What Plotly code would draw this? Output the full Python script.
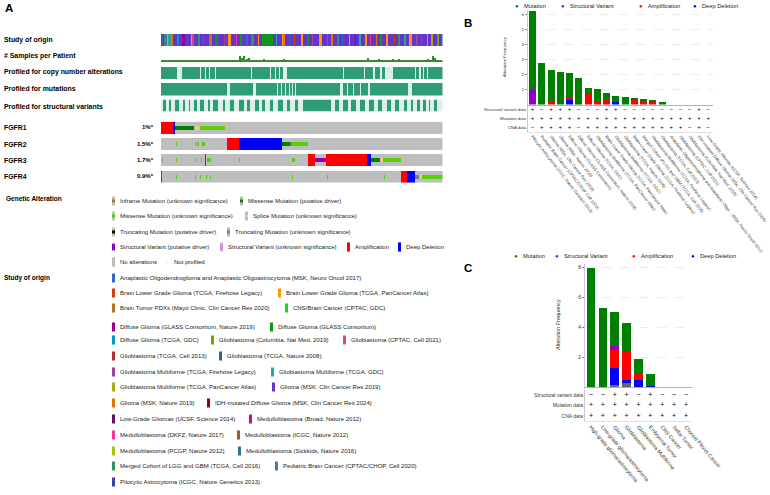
import plotly.graph_objects as go

W, H = 770, 495
FONT = "Arial, Liberation Sans, Helvetica, sans-serif"

def fx(p):
    return p / W

def fy(p):
    return 1 - p / H

def ydom(top, bottom):
    return [fy(bottom), fy(top)]

def xdom(left, right):
    return [fx(left), fx(right)]

def expand(runs):
    out = []
    for v, n in runs:
        out += [v] * n
    return out

def discrete(colors):
    n = len(colors)
    cs = []
    for k, c in enumerate(colors):
        cs.append([k / n, c])
        cs.append([(k + 1) / n, c])
    return cs

# ======================= DATA =======================
study_names = [
    "Anaplastic Oligodendroglioma and Anaplastic Oligoastrocytoma (MSK, Neuro Oncol 2017)",
    "Brain Lower Grade Glioma (TCGA, Firehose Legacy)",
    "Brain Lower Grade Glioma (TCGA, PanCancer Atlas)",
    "Brain Tumor PDXs (Mayo Clinic, Clin Cancer Res 2020)",
    "CNS/Brain Cancer (CPTAC, GDC)",
    "Diffuse Glioma (GLASS Consortium, Nature 2019)",
    "Diffuse Glioma (GLASS Consortium)",
    "Diffuse Glioma (TCGA, GDC)",
    "Glioblastoma (Columbia, Nat Med. 2019)",
    "Glioblastoma (CPTAC, Cell 2021)",
    "Glioblastoma (TCGA, Cell 2013)",
    "Glioblastoma (TCGA, Nature 2008)",
    "Glioblastoma Multiforme (TCGA, Firehose Legacy)",
    "Glioblastoma Multiforme (TCGA, GDC)",
    "Glioblastoma Multiforme (TCGA, PanCancer Atlas)",
    "Glioma (MSK, Clin Cancer Res 2019)",
    "Glioma (MSK, Nature 2019)",
    "IDH-mutated Diffuse Glioma (MSK, Clin Cancer Res 2024)",
    "Low-Grade Gliomas (UCSF, Science 2014)",
    "Medulloblastoma (Broad, Nature 2012)",
    "Medulloblastoma (DKFZ, Nature 2017)",
    "Medulloblastoma (ICGC, Nature 2012)",
    "Medulloblastoma (PCGP, Nature 2012)",
    "Medulloblastoma (Sickkids, Nature 2016)",
    "Merged Cohort of LGG and GBM (TCGA, Cell 2016)",
    "Pediatric Brain Cancer (CPTAC/CHOP, Cell 2020)",
    "Pilocytic Astrocytoma (ICGC, Nature Genetics 2013)",
]
study_colors = [
    "#3366cc", "#dc3912", "#ff9900", "#b77322", "#16d620", "#990099", "#109618",
    "#0099c6", "#66aa00", "#dd4477", "#b82e2e", "#316395", "#994499", "#22aa99",
    "#aaaa11", "#6633cc", "#e67300", "#8b0707", "#651067", "#b91383", "#f4359e",
    "#9c5935", "#a9c413", "#2a778d", "#329262", "#5574a6", "#3b3eac",
]
# study of origin per sample column (study index, run length)
study_runs = [
    (11, 2), (25, 2), (2, 1), (13, 2), (16, 1), (15, 3), (7, 1), (15, 2), (5, 2), (15, 4),
    (2, 1), (9, 1), (15, 3), (24, 1), (15, 2), (1, 1), (15, 3), (13, 1), (3, 1), (15, 2),
    (6, 2), (15, 4), (12, 1), (15, 2), (2, 2), (15, 3), (20, 1), (15, 2), (6, 1), (15, 3),
    (0, 1), (15, 2), (24, 2), (15, 3), (2, 1), (15, 2), (6, 7), (15, 2), (13, 1), (15, 3),
    (2, 1), (16, 1), (15, 3), (11, 1), (15, 2), (1, 1), (15, 4), (2, 1), (15, 3), (6, 1),
    (15, 2), (12, 1), (15, 4), (2, 2), (15, 3), (7, 1), (15, 2), (16, 1), (15, 3), (24, 1),
    (15, 2), (0, 1), (15, 4), (2, 1), (15, 3), (5, 1), (15, 2), (13, 1), (15, 3), (2, 1),
    (15, 2), (9, 1), (15, 3), (16, 1), (15, 2), (6, 1), (15, 3), (2, 1), (15, 4), (1, 1),
    (15, 2), (24, 1), (15, 3), (13, 1), (15, 2), (2, 2), (15, 3), (12, 1), (15, 2), (0, 1),
    (15, 3), (2, 1), (15, 2), (14, 1), (15, 3), (8, 1), (15, 2), (11, 1),
]
# samples per patient: patients with more than one sample (column index, count)
multi_sample_cols = [37, 46, 51, 54, 59, 78, 80, 82, 85, 87, 102, 122, 124, 132, 136, 139,
                     157, 169, 206, 211, 217, 221, 225, 231, 237, 259, 263, 266, 271, 273]
multi_sample_vals = [2, 2, 2, 2, 2, 5, 4, 5, 3, 4, 3, 3, 2, 2, 2, 2,
                     2, 2, 4, 2, 3, 2, 2, 3, 3, 2, 2, 3, 5, 4]
n_samples_cols = 281
# profiled tracks (1 = profiled, 0 = not profiled)
cna_profiled_runs = [
    (1, 16), (0, 5), (1, 18), (0, 1), (1, 4), (0, 1), (1, 3), (0, 1), (1, 5), (0, 1),
    (1, 35), (0, 1), (1, 18), (0, 1), (1, 4), (0, 1), (1, 3), (0, 1), (1, 3), (0, 4),
    (1, 55), (0, 1), (1, 20), (0, 1), (1, 8), (0, 2), (1, 5), (0, 2), (1, 3), (0, 8),
    (1, 22), (0, 1), (1, 3), (0, 2), (1, 2), (0, 1), (1, 3), (0, 1), (1, 15),
]
mut_profiled_runs = [
    (1, 66), (0, 3), (1, 23), (0, 3), (1, 21), (0, 1), (1, 3), (0, 1), (1, 3), (0, 1),
    (1, 3), (0, 1), (1, 2), (0, 1), (1, 2), (0, 1), (1, 43), (0, 3), (1, 4), (0, 1),
    (1, 5), (0, 1), (1, 6), (0, 1), (1, 7), (0, 2), (1, 38), (0, 4), (1, 31),
]
sv_profiled_runs = [
    (0, 2), (1, 3), (0, 3), (1, 2), (0, 4), (1, 4), (0, 4), (1, 2), (0, 4), (1, 1),
    (0, 4), (1, 3), (0, 3), (1, 4), (0, 4), (1, 2), (0, 3), (1, 5), (0, 5), (1, 2),
    (0, 5), (1, 4), (0, 5), (1, 5), (0, 3), (1, 3), (0, 5), (1, 4), (0, 3), (1, 3),
    (0, 5), (1, 3), (0, 5), (1, 5), (0, 4), (1, 3), (0, 5), (1, 3), (0, 4), (1, 28),
    (0, 4), (1, 4), (0, 4), (1, 5), (0, 3), (1, 5), (0, 4), (1, 5), (0, 4), (1, 5),
    (0, 4), (1, 4), (0, 5), (1, 4), (0, 4), (1, 4), (0, 5), (1, 3), (0, 4), (1, 2),
    (0, 4), (1, 3), (0, 3), (1, 3), (0, 3), (1, 1), (0, 4), (1, 3), (0, 6),
]

genes = ["FGFR1", "FGFR2", "FGFR3", "FGFR4"]
gene_pct = ["1%*", "1.5%*", "1.7%*", "0.9%*"]
# alteration codes
alt_names = ["No alterations", "Amplification", "Deep Deletion",
             "Missense Mutation (putative driver)", "Missense Mutation (unknown significance)",
             "Splice Mutation (unknown significance)", "Truncating Mutation (unknown significance)",
             "Structural Variant (putative driver)", "Structural Variant (unknown significance)",
             "Inframe Mutation (unknown significance)", "Truncating Mutation (putative driver)"]
# copy-number layer per gene (code, run length); glyph layer (-1 = none)
gene_base_runs = {
    "FGFR1": [(1, 12), (2, 2), (0, 267)],
    "FGFR2": [(0, 66), (1, 12), (2, 43), (0, 160)],
    "FGFR3": [(0, 44), (1, 1), (0, 101), (1, 7), (0, 11), (1, 41), (2, 4), (0, 72)],
    "FGFR4": [(1, 1), (0, 238), (1, 6), (2, 8), (0, 28)],
}
gene_glyph_runs = {
    "FGFR1": [(-1, 14), (3, 19), (-1, 1), (5, 5), (4, 25), (-1, 217)],
    "FGFR2": [(-1, 15), (4, 1), (-1, 18), (4, 1), (-1, 1), (4, 2), (-1, 3), (4, 3), (-1, 21),
              (8, 1), (-1, 55), (3, 8), (6, 2), (4, 15), (-1, 135)],
    "FGFR3": [(8, 2), (-1, 13), (4, 1), (-1, 18), (4, 1), (-1, 5), (4, 1), (-1, 5), (4, 4),
              (-1, 28), (4, 1), (-1, 52), (4, 3), (-1, 19), (7, 11), (-1, 45), (3, 9), (5, 3),
              (4, 18), (-1, 42)],
    "FGFR4": [(-1, 15), (4, 1), (-1, 18), (4, 1), (-1, 4), (4, 1), (-1, 5), (4, 1), (-1, 3),
              (4, 1), (-1, 81), (4, 1), (-1, 33), (4, 1), (-1, 56), (4, 1), (-1, 30), (6, 4),
              (-1, 1), (5, 2), (4, 21)],
}

# ---- Panel B: alteration frequency by study ----
b_studies = [
    "Pilocytic Astrocytoma (ICGC, Nature Genetics 2013)",
    "Pediatric Brain Cancer (CPTAC/CHOP, Cell 2020)",
    "Glioma (MSK, Clin Cancer Res 2019)",
    "Glioma (MSK, Nature 2019)",
    "Diffuse Glioma (GLASS Consortium)",
    "Diffuse Glioma (GLASS Consortium, Nature 2019)",
    "Diffuse Glioma (TCGA, GDC)",
    "Glioblastoma Multiforme (TCGA, PanCancer Atlas)",
    "Brain Lower Grade Glioma (TCGA, PanCancer Atlas)",
    "Glioblastoma Multiforme (TCGA, GDC)",
    "Glioblastoma (TCGA, Nature 2008)",
    "Brain Lower Grade Glioma (TCGA, Firehose Legacy)",
    "Merged Cohort of LGG and GBM (TCGA, Cell 2016)",
    "Glioblastoma Multiforme (TCGA, Firehose Legacy)",
    "Glioblastoma (TCGA, Cell 2013)",
    "Anaplastic Oligodendroglioma and Anaplastic Oligo... (MSK, Neuro Oncol 2017)",
    "Glioblastoma (CPTAC, Cell 2021)",
    "Glioblastoma (Columbia, Nat Med. 2019)",
    "IDH-mutated Diffuse Glioma (MSK, Clin Cancer Res 2024)",
    "Low-Grade Gliomas (UCSF, Science 2014)",
]
b_mutation = [5.22, 2.76, 2.07, 2.20, 1.58, 1.80, 0.37, 0.84, 0.42, 0.38,
              0.49, 0.02, 0.09, 0.13, 0.16, 0, 0, 0, 0, 0]
b_sv = [1.00, 0, 0, 0, 0, 0, 0, 0, 0, 0, 0, 0, 0, 0, 0, 0, 0, 0, 0, 0]
b_amp = [0, 0, 0.22, 0, 0.16, 0, 0.76, 0.18, 0.36, 0,
         0, 0.38, 0.27, 0.20, 0, 0, 0, 0, 0, 0]
b_del = [0, 0, 0, 0, 0.33, 0, 0, 0, 0, 0.18, 0, 0, 0, 0, 0, 0, 0, 0, 0, 0]
b_sv_data = ["+", "−", "+", "+", "+", "−", "−", "−", "+", "+",
             "−", "−", "−", "−", "−", "−", "−", "−", "+", "−"]
b_mut_data = ["+"] * 20
b_cna_data = ["−", "+", "+", "+", "+", "−", "+", "+", "+", "+",
              "+", "+", "+", "+", "+", "+", "+", "−", "+", "−"]

# ---- Panel C: alteration frequency by cancer type ----
c_types = ["High-grade glioma/astrocytoma", "Low-grade glioma/astrocytoma", "Glioma",
           "Glioblastoma", "Glioblastoma Multiforme", "Embryonal Tumor", "CNS Cancer",
           "Sellar Tumor", "Choroid Plexus Cancer"]
c_mutation = [7.95, 5.27, 2.24, 1.89, 0.96, 0.80, 0, 0, 0]
c_sv = [0, 0, 0.27, 0, 0, 0, 0, 0, 0]
c_amp = [0, 0, 1.24, 1.91, 0.49, 0, 0, 0, 0]
c_del = [0, 0, 1.11, 0.16, 0.44, 0.09, 0, 0, 0]
c_multiple = [0, 0, 0.13, 0.29, 0, 0, 0, 0, 0]
c_sv_data = ["−", "−", "+", "+", "−", "+", "−", "−", "−"]
c_mut_data = ["+"] * 9
c_cna_data = ["+"] * 9

table_rows = ["Structural variant data", "Mutation data", "CNA data"]

# ======================= STYLE =======================
alt_colors = ["#bebebe", "#ff0000", "#0000ff", "#008000", "#53d400", "#edc39b",
              "#708090", "#8b00c9", "#ce92e8", "#a68028", "#000000"]
prof_colors = ["#dcefe7", "#2f9c78"]
COL_MUT, COL_SV, COL_AMP, COL_DEL, COL_MULTI = "#008000", "#8e00c9", "#ff0000", "#0000ff", "#666666"

fig = go.Figure()

# ---------- Panel A oncoprint ----------
study_z = expand(study_runs)
fig.add_trace(go.Heatmap(z=[study_z], colorscale=discrete(study_colors), zmin=-0.5,
                         zmax=len(study_colors) - 0.5, showscale=False, hoverinfo="skip",
                         xaxis="x", yaxis="y"))

samp = [1] * n_samples_cols
for c, v in zip(multi_sample_cols, multi_sample_vals):
    samp[c] = v
fig.add_trace(go.Bar(x=list(range(n_samples_cols)), y=samp, width=0.9, marker_color="#2f8f2f",
                     marker_line_width=0, showlegend=False, hoverinfo="skip",
                     xaxis="x2", yaxis="y2"))

for runs, ax in [(cna_profiled_runs, "3"), (mut_profiled_runs, "4"), (sv_profiled_runs, "5")]:
    fig.add_trace(go.Heatmap(z=[expand(runs)], colorscale=discrete(prof_colors), zmin=-0.5,
                             zmax=1.5, showscale=False, hoverinfo="skip",
                             xaxis="x" + ax, yaxis="y" + ax))

gene_rows = []
for i, g in enumerate(genes):
    base = expand(gene_base_runs[g])
    glyph = expand(gene_glyph_runs[g])
    mid = [gl if gl >= 0 else b for b, gl in zip(base, glyph)]
    gene_rows += [base, mid, base]
    if i < len(genes) - 1:
        gene_rows.append([None] * len(base))
fig.add_trace(go.Heatmap(z=gene_rows, colorscale=discrete(alt_colors), zmin=-0.5,
                         zmax=len(alt_colors) - 0.5, showscale=False, hoverinfo="skip",
                         hoverongaps=False, xaxis="x6", yaxis="y6"))

# ---------- Panel B ----------
for vals, col in [(b_del, COL_DEL), (b_amp, COL_AMP), (b_sv, COL_SV), (b_mutation, COL_MUT)]:
    fig.add_trace(go.Bar(x=b_studies, y=vals, width=0.78, marker_color=col,
                         marker_line_width=0, showlegend=False, xaxis="x7", yaxis="y7"))
for row, syms in zip(table_rows, [b_sv_data, b_mut_data, b_cna_data]):
    fig.add_trace(go.Scatter(x=b_studies, y=[row] * len(b_studies), mode="text", text=syms,
                             textfont=dict(size=6, color="#000", family=FONT), showlegend=False,
                             hoverinfo="skip", xaxis="x8", yaxis="y8"))

# ---------- Panel C ----------
for vals, col in [(c_multiple, COL_MULTI), (c_del, COL_DEL), (c_amp, COL_AMP), (c_sv, COL_SV),
                  (c_mutation, COL_MUT)]:
    fig.add_trace(go.Bar(x=c_types, y=vals, width=0.72, marker_color=col,
                         marker_line_width=0, showlegend=False, xaxis="x9", yaxis="y9"))
for row, syms in zip(table_rows, [c_sv_data, c_mut_data, c_cna_data]):
    fig.add_trace(go.Scatter(x=c_types, y=[row] * len(c_types), mode="text", text=syms,
                             textfont=dict(size=7, color="#000", family=FONT), showlegend=False,
                             hoverinfo="skip", xaxis="x10", yaxis="y10"))

# ======================= LAYOUT =======================
hidden = dict(visible=False, showgrid=False, zeroline=False, fixedrange=True, automargin=False)
onco_x = xdom(161, 442.5)
layout = dict(
    width=W, height=H, margin=dict(l=0, r=0, t=0, b=0, autoexpand=False), paper_bgcolor="white",
    plot_bgcolor="white", showlegend=False, barmode="stack",
    font=dict(family=FONT, color="#000"),
)
tracks = [("", 34, 46, len(study_z)), ("2", 52, 62, n_samples_cols), ("3", 67, 79, None),
          ("4", 83, 95.5, None), ("5", 99.5, 111.5, None), ("6", 121.7, 182.7, None)]
for ax, top, bot, n in tracks:
    layout["xaxis" + ax] = dict(hidden, domain=onco_x, anchor="y" + ax)
    layout["yaxis" + ax] = dict(hidden, domain=ydom(top, bot), anchor="x" + ax)
layout["xaxis"]["range"] = [-0.5, len(study_z) - 0.5]
layout["xaxis2"]["range"] = [-0.5, n_samples_cols - 0.5]
layout["yaxis2"]["range"] = [0, 9]
layout["yaxis6"]["autorange"] = "reversed"
for ax in ["3", "4", "5"]:
    layout["yaxis" + ax]["range"] = [-0.5, 0.5]

tickfont_b = dict(size=4.3, family=FONT, color="#333")
layout["xaxis7"] = dict(domain=xdom(528, 713), anchor="y7", showticklabels=False, ticks="",
                        showline=True, linecolor="#b0b0b0", linewidth=1, range=[-0.5, 19.5],
                        showgrid=False, fixedrange=True, automargin=False)
layout["yaxis7"] = dict(domain=ydom(10, 104.5), anchor="x7", range=[0, 6.3],
                        tickvals=[1, 2, 3, 4, 5, 6], ticksuffix="%", tickfont=tickfont_b,
                        ticks="outside", ticklen=2, tickcolor="#888", showline=True,
                        linecolor="#cccccc", showgrid=True, gridcolor="#ececec", griddash="dash",
                        zeroline=False, fixedrange=True, automargin=False)
layout["xaxis8"] = dict(domain=xdom(528, 713), anchor="y8", range=[-0.5, 19.5], tickangle=52,
                        tickfont=dict(size=4.2, family=FONT, color="#333"), ticks="",
                        showline=True, linecolor="#e2e2e2", showgrid=False, fixedrange=True,
                        tickmode="array", tickvals=b_studies, ticktext=b_studies,
                        automargin=False)
layout["yaxis8"] = dict(domain=ydom(105.5, 131.5), anchor="x8", range=[2.5, -0.5],
                        tickfont=tickfont_b, ticks="", showline=True, linecolor="#cccccc",
                        showgrid=False, zeroline=False, fixedrange=True, automargin=False)

tickfont_c = dict(size=5, family=FONT, color="#333")
layout["xaxis9"] = dict(domain=xdom(585, 692), anchor="y9", showticklabels=False, ticks="",
                        showline=True, linecolor="#b0b0b0", linewidth=1, range=[-0.5, 8.5],
                        showgrid=False, fixedrange=True, automargin=False)
layout["yaxis9"] = dict(domain=ydom(264, 387), anchor="x9", range=[0, 8.2],
                        tickvals=[2, 4, 6, 8], ticksuffix="%", tickfont=tickfont_c,
                        ticks="outside", ticklen=2, tickcolor="#888", showline=True,
                        linecolor="#cccccc", showgrid=True, gridcolor="#ececec", griddash="dash",
                        zeroline=False, fixedrange=True, automargin=False)
layout["xaxis10"] = dict(domain=xdom(585, 692), anchor="y10", range=[-0.5, 8.5], tickangle=50,
                         tickfont=dict(size=5.2, family=FONT, color="#333"), ticks="",
                         showline=True, linecolor="#e2e2e2", showgrid=False, fixedrange=True,
                         tickmode="array", tickvals=c_types, ticktext=c_types,
                         automargin=False)
layout["yaxis10"] = dict(domain=ydom(389.5, 421), anchor="x10", range=[2.5, -0.5],
                         tickfont=tickfont_c, ticks="", showline=True, linecolor="#cccccc",
                         showgrid=False, zeroline=False, fixedrange=True, automargin=False)

annotations = []
shapes = []

def txt(x, y, s, size, bold=False, anchor="left", color="#000", angle=0):
    annotations.append(dict(x=fx(x), y=fy(y), xref="paper", yref="paper", text=("<b>%s</b>" % s) if bold else s,
                            showarrow=False, xanchor=anchor, yanchor="middle", textangle=angle,
                            font=dict(size=size, family=FONT, color=color)))

def rect(x0, y0, x1, y1, color):
    shapes.append(dict(type="rect", xref="paper", yref="paper", x0=fx(x0), x1=fx(x1),
                       y0=fy(y1), y1=fy(y0), fillcolor=color, line=dict(width=0), layer="above"))

# panel letters
txt(3, 8, "A", 11.5, bold=True)
txt(462, 23, "B", 11.5, bold=True)
txt(462, 268, "C", 11.5, bold=True)

# oncoprint row labels
row_labels = [("Study of origin", 40), ("# Samples per Patient", 56.5),
              ("Profiled for copy number alterations", 72), ("Profiled for mutations", 88),
              ("Profiled for structural variants", 106)]
for s, y in row_labels:
    txt(2, y, s, 6.9, bold=True)
gene_label_y = [127, 144, 160, 176]
for g, p, y in zip(genes, gene_pct, gene_label_y):
    txt(2, y, g, 6.9, bold=True)
    txt(155.5, y, p, 6, bold=True, anchor="right")

# Genetic alteration legend
txt(4, 199, "Genetic Alteration", 6.5, bold=True)
alt_legend = [  # (x, y, code, glyph type)
    (112, 201, 9, "mut"), (240, 201, 3, "mut"),
    (112, 216, 4, "mut"), (245, 216, 5, "mut"),
    (112, 232, 10, "mut"), (227, 232, 6, "mut"),
    (112, 247, 7, "sv"), (220, 247, 8, "sv"), (347, 247, 1, "full"), (398, 247, 2, "full"),
    (112, 262, 0, "full"),
]
for x, y, code, kind in alt_legend:
    rect(x, y - 4.5, x + 3, y + 4.5, alt_colors[0])
    if kind == "mut":
        rect(x, y - 1.5, x + 3, y + 1.5, alt_colors[code])
    elif kind == "sv":
        rect(x, y - 3, x + 3, y + 3, alt_colors[code])
    else:
        rect(x, y - 4.5, x + 3, y + 4.5, alt_colors[code])
    txt(x + 5.5, y, alt_names[code], 6.0, color="#222")
rect(166, 261.5, 168.5, 262.5, "#dddddd")
txt(171.5, 262, "Not profiled", 6.0, color="#222")

# Study of origin legend
txt(2, 278, "Study of origin", 6.5, bold=True)
study_legend_pos = [(112, 278), (112, 293), (278, 293), (112, 308), (285, 308), (112, 327),
                    (270, 327), (112, 340), (211, 340), (343, 340), (112, 356), (219, 356),
                    (112, 372), (271, 372), (112, 387), (272, 387), (112, 403), (207, 403),
                    (112, 419), (249, 419), (112, 435), (237, 435), (112, 451), (238, 451),
                    (112, 466), (275, 466), (112, 482)]
for (x, y), name, col in zip(study_legend_pos, study_names, study_colors):
    rect(x, y - 4.5, x + 3, y + 4.5, col)
    txt(x + 5.5, y, name, 6.05, color="#222")

# B / C legends
def dot_legend(items, y):
    for xd, name, col in items:
        txt(xd, y, "●", 6, anchor="center", color=col)
        txt(xd + 5, y, name, 5.7, color="#222")

dot_legend([(517, "Mutation", COL_MUT), (563, "Structural Variant", COL_SV),
            (641, "Amplification", COL_AMP), (695, "Deep Deletion", COL_DEL)], 6)
dot_legend([(516, "Mutation", COL_MUT), (557, "Structural Variant", COL_SV),
            (634, "Amplification", COL_AMP), (693, "Deep Deletion", COL_DEL)], 256)
txt(505, 57, "Alteration Frequency", 4.3, anchor="center", color="#333", angle=-90)
txt(558, 325, "Alteration Frequency", 5.5, anchor="center", color="#333", angle=-90)

layout["annotations"] = annotations
layout["shapes"] = shapes
fig.update_layout(**layout)
fig.write_html("out.html")
